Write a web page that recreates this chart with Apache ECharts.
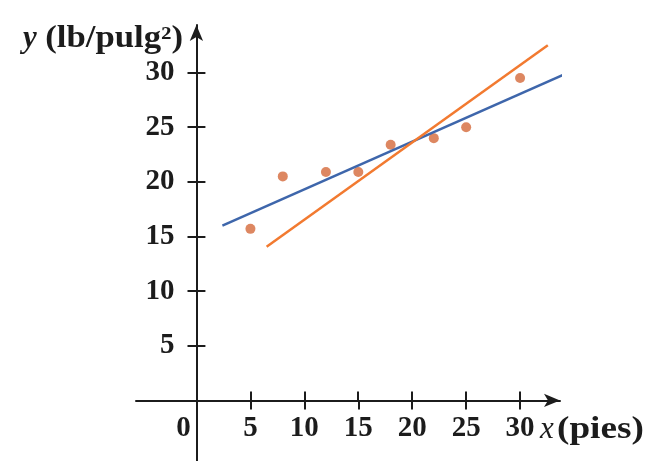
<!DOCTYPE html>
<html><head><meta charset="utf-8">
<script src="https://cdn.jsdelivr.net/npm/echarts@6/dist/echarts.min.js"></script>
<style>html,body{margin:0;padding:0;background:#fff}#c{width:669px;height:461px}</style>
</head><body><div id="c"></div>
<script>
// ---- data ----
const xTicks = [5, 10, 15, 20, 25, 30];
const yTicks = [5, 10, 15, 20, 25, 30];
const xLabelValues = [0, 5, 10, 15, 20, 25, 30];
const pointsX = [5, 8, 12, 15, 18, 22, 25, 30];
const pointsY = [15.7, 20.5, 20.9, 20.9, 23.4, 24.0, 25.0, 29.5];
const blueLineX = [2.4, 34.65];
const blueLineY = [16.0, 30.08];
const orangeLineX = [6.5, 32.57];
const orangeLineY = [14.07, 32.5];
const yVar = 'y', yUnit = '(lb/pulg²)';
const xVar = 'x', xUnit = '(pies)';

const FONT = 'Liberation Serif';
const INK = '#1c1c1c';
const lbl = {fontFamily: FONT, fontSize: 29, fontWeight: 'bold', color: INK};

const pts = pointsX.map((x, i) => [x, pointsY[i]]);
const blue = blueLineX.map((x, i) => [x, blueLineY[i]]);
const orange = orangeLineX.map((x, i) => [x, orangeLineY[i]]);

const tick = {length: 9, lineStyle: {color: INK, width: 2}};
const XMIN = -5.6, XMAX = 33.7, YMIN = -5.54, YMAX = 34.35;
const nameStyle = (text, align, extra) => Object.assign({text, align, verticalAlign: 'middle',
  fontFamily: FONT, fontSize: 31, fontWeight: 'bold', fill: INK}, extra || {});

const chart = echarts.init(document.getElementById('c'));
chart.setOption({
  animation: false,
  backgroundColor: '#fff',
  grid: [
    // first quadrant: ticks below/left of the axes and the tick labels
    {left: 196.5, top: 25, width: 363.5, bottom: 60.5, containLabel: false, outerBoundsMode: 'none'},
    // full extent: the axis lines (with arrows) through zero and the upper/right tick halves
    {left: 136, top: 25, width: 424, height: 436, containLabel: false, outerBoundsMode: 'none'}
  ],
  xAxis: [
    {type: 'value', gridIndex: 0, min: 0, max: XMAX, position: 'bottom',
     axisLine: {show: false},
     axisTick: Object.assign({customValues: xTicks}, tick),
     axisLabel: Object.assign({customValues: xLabelValues, margin: 14,
       formatter: v => v === 0 ? '{z|0}' : String(v),
       rich: {z: Object.assign({}, lbl, {padding: [0, 26, 0, 0]})}}, lbl),
     splitLine: {show: false}},
    {type: 'value', gridIndex: 1, min: XMIN, max: XMAX, position: 'bottom',
     axisLine: {onZero: true, lineStyle: {color: INK, width: 2}, symbol: ['none', 'arrow'], symbolSize: [10, 16]},
     axisTick: Object.assign({customValues: xTicks, inside: true}, tick),
     axisLabel: {show: false}, splitLine: {show: false}}
  ],
  yAxis: [
    {type: 'value', gridIndex: 0, min: 0, max: YMAX, position: 'left',
     axisLine: {show: false},
     axisTick: Object.assign({customValues: yTicks}, tick),
     axisLabel: Object.assign({customValues: yTicks, margin: 22}, lbl),
     splitLine: {show: false}},
    {type: 'value', gridIndex: 1, min: YMIN, max: YMAX, position: 'left',
     axisLine: {onZero: true, lineStyle: {color: INK, width: 2}, symbol: ['none', 'arrow'], symbolSize: [10, 16]},
     axisTick: Object.assign({customValues: yTicks, inside: true}, tick),
     axisLabel: {show: false}, splitLine: {show: false}}
  ],
  graphic: [
    {type: 'text', x: 23, y: 39, style: nameStyle(yVar, 'left', {fontStyle: 'italic'})},
    {type: 'text', x: 183, y: 39, scaleX: 1.12, style: nameStyle(yUnit, 'right')},
    {type: 'text', x: 540, y: 430, style: nameStyle(xVar, 'left', {fontStyle: 'italic', fontWeight: 'normal'})},
    {type: 'text', x: 557, y: 430, scaleX: 1.2, style: nameStyle(xUnit, 'left')}
  ],
  series: [
    {type: 'scatter', xAxisIndex: 0, yAxisIndex: 0, data: pts, symbolSize: 10, z: 2,
     itemStyle: {color: '#d4693a'}},
    {type: 'line', xAxisIndex: 0, yAxisIndex: 0, data: blue, symbol: 'none', clip: false, z: 3,
     lineStyle: {color: '#3e66ab', width: 2.5}},
    {type: 'line', xAxisIndex: 0, yAxisIndex: 0, data: orange, symbol: 'none', clip: false, z: 3,
     lineStyle: {color: '#f27a30', width: 2.5}}
  ]
});
</script></body></html>
